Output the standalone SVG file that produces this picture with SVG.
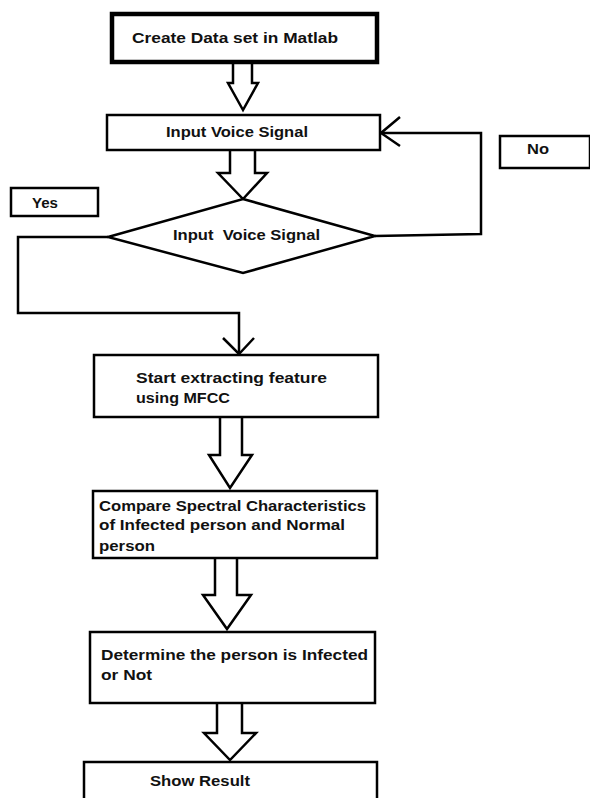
<svg xmlns="http://www.w3.org/2000/svg" width="590" height="798" viewBox="0 0 590 798">
  <style>
    .box { fill: #ffffff; stroke: #000000; stroke-width: 2.5; }
    .thick { stroke-width: 4.5; }
    .blk { fill: #ffffff; stroke: #000000; stroke-width: 2.5; stroke-linejoin: miter; }
    .line { fill: none; stroke: #000000; stroke-width: 2.5; }
    text { font-family: "Liberation Sans", Arial, sans-serif; font-weight: bold; font-size: 15px; fill: #111111; }
  </style>
  <rect width="590" height="798" fill="#ffffff"/>

  <!-- connectors: hollow block arrows and loop lines -->
  <g id="connectors">
    <path class="blk" d="M233,62 V83 H228 L243,110 L258,83 H252 V62"/>
    <path class="blk" d="M230,150 V173 H218 L243,199 L267,173 H255 V150"/>
    <path class="blk" d="M220,417 V455 H209 L230,488 L252,455 H242 V417"/>
    <path class="blk" d="M215,558 V595 H203 L227,629 L251,595 H237 V558"/>
    <path class="blk" d="M217,703 V733 H204 L230,760 L256,733 H242 V703"/>
    <!-- No branch back to input -->
    <path class="line" d="M375,236 L481,234 V133 H381"/>
    <path class="line" d="M400,117 L381,133 L400,146"/>
    <!-- Yes branch down to feature extraction -->
    <path class="line" d="M108,237 H18 V313 H239 V354"/>
    <path class="line" d="M223,338 L239,354 L254,338"/>
  </g>

  <g id="create-dataset">
    <rect class="box thick" x="112" y="14" width="265" height="48"/>
    <text x="132" y="43" textLength="206" lengthAdjust="spacingAndGlyphs">Create Data set in Matlab</text>
  </g>

  <g id="input-voice">
    <rect class="box" x="107" y="115" width="273" height="35"/>
    <text x="166" y="137" textLength="142" lengthAdjust="spacingAndGlyphs">Input Voice Signal</text>
  </g>

  <g id="label-no">
    <rect class="box" x="500" y="136" width="90" height="32"/>
    <text x="527" y="154" textLength="22" lengthAdjust="spacingAndGlyphs">No</text>
  </g>

  <g id="label-yes">
    <rect class="box" x="11" y="188" width="87" height="28"/>
    <text x="32" y="208" textLength="26" lengthAdjust="spacingAndGlyphs">Yes</text>
  </g>

  <g id="decision">
    <polygon class="box" points="243,199 375,236 243,273 108,237"/>
    <text x="173" y="240" textLength="147" lengthAdjust="spacingAndGlyphs" xml:space="preserve">Input  Voice Signal</text>
  </g>

  <g id="extract-mfcc">
    <rect class="box" x="94" y="355" width="284" height="62"/>
    <text x="136" y="383" textLength="191" lengthAdjust="spacingAndGlyphs">Start extracting feature</text>
    <text x="136" y="403" textLength="94" lengthAdjust="spacingAndGlyphs">using MFCC</text>
  </g>

  <g id="compare-spectral">
    <rect class="box" x="93" y="491" width="284" height="67"/>
    <text x="99" y="511" textLength="267" lengthAdjust="spacingAndGlyphs">Compare Spectral Characteristics</text>
    <text x="99" y="530" textLength="246" lengthAdjust="spacingAndGlyphs">of Infected person and Normal</text>
    <text x="99" y="551" textLength="56" lengthAdjust="spacingAndGlyphs">person</text>
  </g>

  <g id="determine">
    <rect class="box" x="90" y="632" width="285" height="71"/>
    <text x="101" y="660" textLength="267" lengthAdjust="spacingAndGlyphs">Determine the person is Infected</text>
    <text x="101" y="680" textLength="51" lengthAdjust="spacingAndGlyphs">or Not</text>
  </g>

  <g id="show-result">
    <rect class="box" x="84" y="762" width="293" height="50"/>
    <text x="150" y="786" textLength="100" lengthAdjust="spacingAndGlyphs">Show Result</text>
  </g>
</svg>
